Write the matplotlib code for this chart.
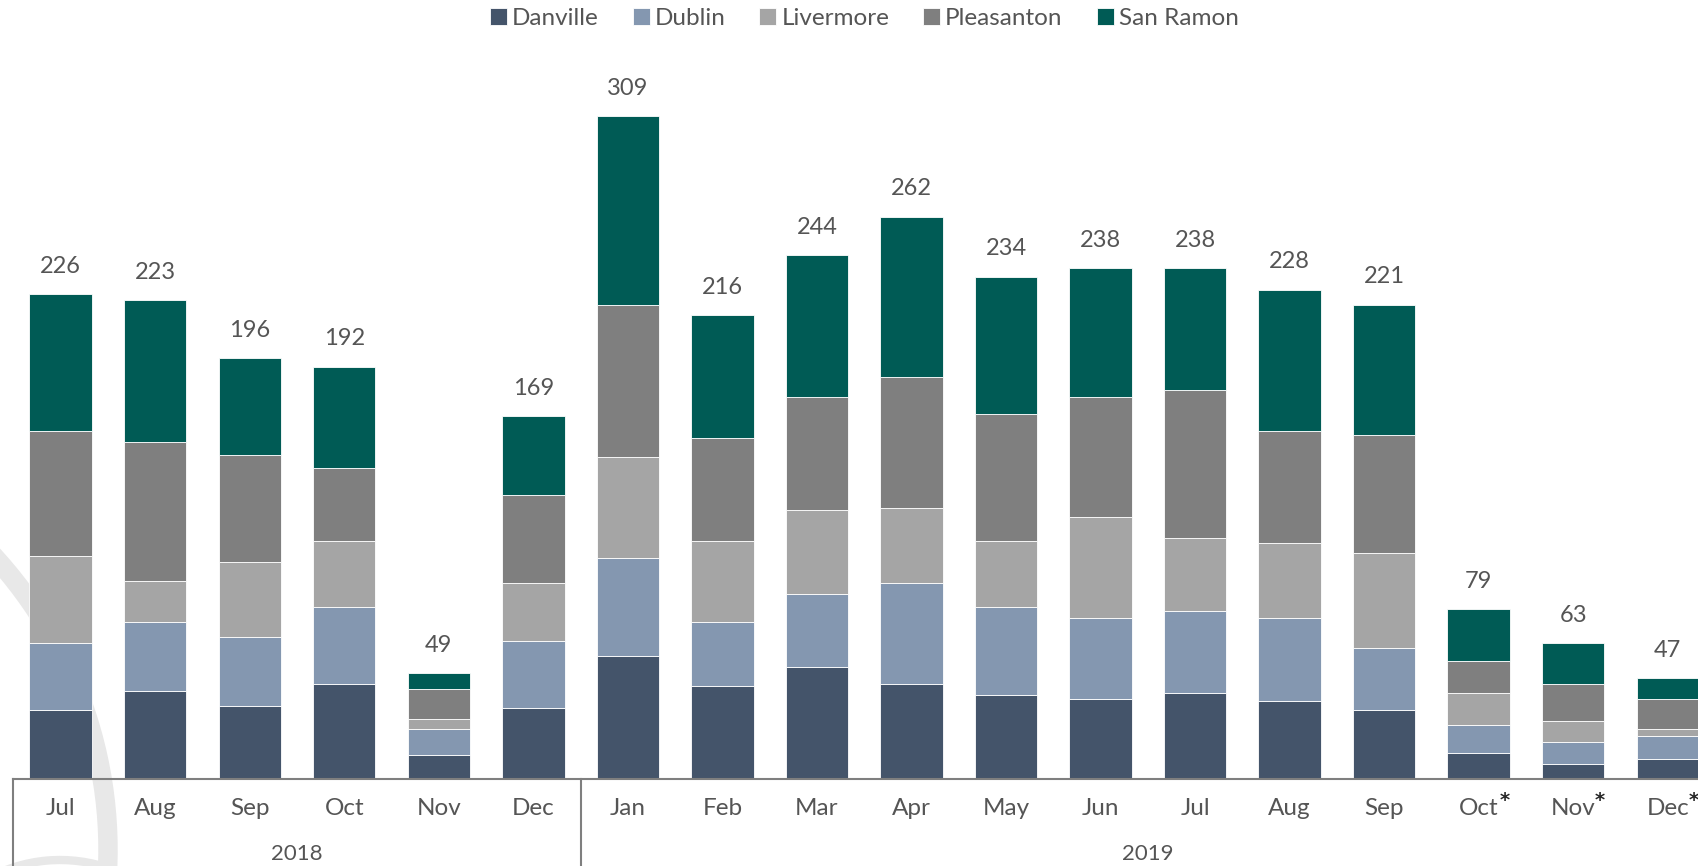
#!/usr/bin/env python3
"""Stacked monthly bars by city, Jul 2018 - Dec 2019."""

import matplotlib.pyplot as plt
import numpy as np
from matplotlib.patches import Arc
from matplotlib.transforms import blended_transform_factory

# Data
months = ["Jul", "Aug", "Sep", "Oct", "Nov", "Dec",
          "Jan", "Feb", "Mar", "Apr", "May", "Jun",
          "Jul", "Aug", "Sep", "Oct", "Nov", "Dec"]
starred = [False] * 15 + [True, True, True]
years = ["2018", "2019"]
year_spans = [(0, 5), (6, 17)]

danville = [32, 41, 34, 44, 11, 33, 57, 43, 52, 44, 39, 37, 40, 36, 32, 12, 7, 9]
dublin = [31, 32, 32, 36, 12, 31, 46, 30, 34, 47, 41, 38, 38, 39, 29, 13, 10, 11]
livermore = [41, 19, 35, 31, 5, 27, 47, 38, 39, 35, 31, 47, 34, 35, 44, 15, 10, 3]
pleasanton = [58, 65, 50, 34, 14, 41, 71, 48, 53, 61, 59, 56, 69, 52, 55, 15, 17, 14]
san_ramon = [64, 66, 45, 47, 7, 37, 88, 57, 66, 75, 64, 60, 57, 66, 61, 24, 19, 10]

series = [
    ("Danville", danville, "#44546A"),
    ("Dublin", dublin, "#8497B0"),
    ("Livermore", livermore, "#A5A5A5"),
    ("Pleasanton", pleasanton, "#7F7F7F"),
    ("San Ramon", san_ramon, "#005B55"),
]

plt.rcParams["font.family"] = ["Lato", "DejaVu Sans"]
text_color = "#555555"

W, H = 1698, 866
fig = plt.figure(figsize=(W / 100, H / 100), dpi=100)

# faint watermark arc in the background
bg = fig.add_axes([0, 0, 1, 1], zorder=-1)
bg.set_xlim(0, W)
bg.set_ylim(0, H)
bg.axis("off")
bg.add_patch(Arc((-327, H - 850), 870, 870, theta1=-10, theta2=45,
                 color="#e8e8e8", lw=14))
bg.add_patch(Arc((60, H - 1010), 300, 300, theta1=70, theta2=120,
                 color="#e8e8e8", lw=6))

ax_left = 13.4 / W
ax_width = (1715 - 13.4) / W
ax_bottom = (H - 778.6) / H
ax_height = 340 * 2.145 / H
ax = fig.add_axes([ax_left, ax_bottom, ax_width, ax_height])
ax.patch.set_alpha(0)

x = np.arange(len(months))
bottom = np.zeros(len(months))
for name, vals, color in series:
    ax.bar(x, vals, width=0.66, bottom=bottom, color=color, label=name,
           edgecolor="white", linewidth=0.6, zorder=2)
    bottom += np.array(vals)

for xi, total in zip(x, bottom):
    ax.annotate(f"{int(total)}", (xi, total), xytext=(0, 20),
                textcoords="offset points", ha="center", va="center",
                fontsize=17, color=text_color)

ax.set_xlim(-0.5, len(months) - 0.5)
ax.set_ylim(0, 340)
ax.set_xticks([])
ax.set_yticks([])
for side in ["top", "right", "left"]:
    ax.spines[side].set_visible(False)
ax.spines["bottom"].set_color("#7f7f7f")
ax.spines["bottom"].set_linewidth(1.5)
ax.spines["bottom"].set_zorder(3)

trans = blended_transform_factory(ax.transData, ax.transAxes)
px = 1 / (ax_height * H)
for xi, label, star in zip(x, months, starred):
    ax.text(xi, -30 * px, label, transform=trans, ha="center", va="center",
            fontsize=17.5, color=text_color)
    if star:
        ax.annotate("*", (xi, -30 * px), xycoords=trans, xytext=(19, 6),
                    textcoords="offset points", ha="center", va="center",
                    fontsize=14, color="#262626", weight="bold",
                    family="DejaVu Sans")

for year, (start, end) in zip(years, year_spans):
    ax.text((start + end) / 2, -75 * px, year, transform=trans,
            ha="center", va="center", fontsize=16, color=text_color)

for bx in [-0.5, 5.5, 17.5]:
    ax.plot([bx, bx], [0, -0.2], transform=trans, color="#7f7f7f",
            lw=1.5, clip_on=False)

fig.legend(loc="upper center", bbox_to_anchor=(ax_left + ax_width / 2, 1.016),
           ncol=5, frameon=False, fontsize=17.5, handlelength=0.7,
           handleheight=0.7, handletextpad=0.2, columnspacing=1.4,
           labelcolor=text_color)

fig.savefig("out.png", dpi=100)
